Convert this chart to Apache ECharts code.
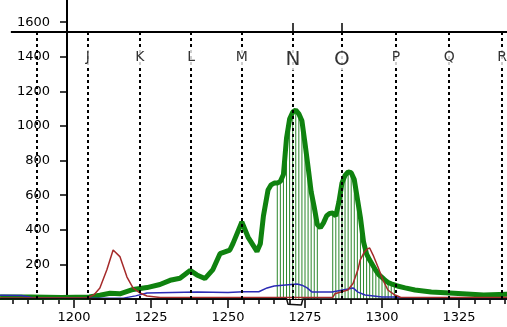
<!DOCTYPE html>
<html>
<head>
<meta charset="utf-8">
<script src="https://cdn.jsdelivr.net/npm/echarts@6/dist/echarts.min.js"></script>
<style>
    html, body { margin: 0; padding: 0; background: #fff; }
    #grafico { width: 507px; height: 327px; }
</style>
</head>
<body>
<div id="grafico"></div>
<script>
// marcadores (linhas tracejadas com letras)
var marcadores_nomes = ['', 'J', 'K', 'L', 'M', 'N', 'O', 'P', 'Q', 'R'];
var marcadores_pos = [1188, 1204.5, 1221.4, 1238, 1254.5, 1271.1, 1287, 1304.5, 1321.8, 1339];
var marcadores_grandes = ['N', 'O'];

// faixas com hachura verde
var faixas_hachura = [[1266, 1279], [1284, 1304]];

// curva verde (grossa)
var linha_verde = [
    [1176, 12], [1186, 12], [1196, 8], [1205, 12], [1208.4, 22], [1211.7, 33], [1214.9, 30],
    [1219.2, 55], [1223.7, 66], [1227.9, 84], [1231.2, 108], [1234.4, 120], [1237.7, 165],
    [1239.9, 139], [1242.5, 118], [1245.1, 170], [1247.4, 262], [1250.6, 283], [1251.6, 320],
    [1254.5, 445], [1256.5, 358], [1259.4, 275], [1260.5, 320], [1261.5, 480], [1263, 630],
    [1264, 660], [1265, 670], [1266, 670], [1267, 680], [1268, 720], [1269, 930], [1270, 1040],
    [1271, 1080], [1272, 1092], [1273, 1070], [1274, 1030], [1275, 900], [1276, 763], [1277, 620],
    [1278, 530], [1279, 430], [1280, 412], [1281, 440], [1282, 480], [1283, 495], [1284, 497],
    [1285, 480], [1286, 560], [1287, 670], [1288, 715], [1289, 735], [1290, 730], [1291, 690],
    [1292, 580], [1293, 470], [1294, 330], [1295, 260], [1296, 225], [1297, 195], [1298, 165],
    [1299, 140], [1300, 125], [1301, 108], [1302, 95], [1303, 88], [1304, 82], [1305, 75],
    [1307.5, 64], [1310.7, 52], [1316, 40], [1322, 35], [1333, 23], [1341, 28]
];

// curva vermelha
var linha_vermelha = [
    [1176, 6], [1204.5, 6], [1206.5, 25], [1208.4, 63], [1210.7, 170], [1212.7, 283], [1213.3, 292],
    [1214.9, 245], [1217.2, 127], [1219.2, 63], [1221.4, 35], [1223.7, 17], [1228, 8], [1260, 9],
    [1284, 9], [1284.7, 30], [1288.9, 52], [1290.6, 90], [1292.2, 170], [1292.9, 225], [1294.2, 270],
    [1295.3, 290], [1296, 295], [1297.1, 254], [1298.7, 185], [1300.3, 110], [1301.9, 52],
    [1304.2, 23], [1306, 10], [1341, 8]
];

// curva azul
var linha_azul = [
    [1176, 22], [1183, 20], [1187, 6], [1200, 4], [1216, 5], [1220, 18], [1223.7, 35], [1240, 40],
    [1250, 38], [1255, 42], [1260, 42], [1262.7, 64], [1265, 75], [1272.4, 87], [1274, 80],
    [1275.7, 64], [1277.3, 40], [1283.8, 40], [1289, 58], [1290.6, 64], [1292.2, 40], [1294.5, 23],
    [1300, 12], [1304, 12], [1306.5, 5], [1341, 3]
];

// curva preta
var linha_preta = [
    [1176, 2], [1269, 2], [1269.5, -30], [1273.8, -35], [1274.3, 0], [1341, 2]
];

var topo_valor = 1543;
var traco_topo = 1595;

var barras = linha_verde.filter(function (p) {
    return faixas_hachura.some(function (f) { return p[0] >= f[0] && p[0] <= f[1]; });
});

var linhas_tracejadas = marcadores_pos.map(function (x) {
    return [{ coord: [x, 0] }, { coord: [x, topo_valor] }];
});
linhas_tracejadas.push([{ coord: [1179.5, topo_valor], lineStyle: { type: 'solid', width: 2 } }, { coord: [1350, topo_valor] }]);
marcadores_nomes.forEach(function (n, i) {
    if (marcadores_grandes.indexOf(n) >= 0) {
        linhas_tracejadas.push([{ coord: [marcadores_pos[i], topo_valor], lineStyle: { type: 'solid', width: 1.5 } }, { coord: [marcadores_pos[i], traco_topo] }]);
    }
});

var letras = marcadores_nomes.map(function (n, i) {
    var grande = marcadores_grandes.indexOf(n) >= 0;
    return {
        value: [marcadores_pos[i], grande ? 1385 : 1399],
        nome: n,
        label: { fontSize: grande ? 20 : 14, show: n !== '' }
    };
});

var fonte = 'DejaVu Sans';

echarts.init(document.querySelector('#grafico')).setOption({
    animation: false,
    backgroundColor: '#fff',
    grid: { left: -3, right: -29, top: -12.4, bottom: 28, outerBoundsMode: 'none', containLabel: false },
    xAxis: {
        type: 'value',
        min: 1175,
        max: 1350,
        interval: 25,
        axisLine: { onZero: false, lineStyle: { color: '#000', width: 1 } },
        axisTick: { length: 9, lineStyle: { color: '#000', width: 1.5 } },
        minorTick: { show: true, splitNumber: 5, length: 5, lineStyle: { color: '#000', width: 1.5 } },
        splitLine: { show: false },
        axisLabel: {
            margin: 12, fontSize: 13, color: '#000', fontFamily: fonte,
            formatter: function (v) { return v === 1175 ? '' : v; }
        }
    },
    yAxis: {
        type: 'value',
        min: 0,
        max: 1800,
        interval: 200,
        offset: -70,
        axisLine: { show: true, lineStyle: { color: '#000', width: 2 } },
        axisTick: { show: true, length: 7, lineStyle: { color: '#000', width: 1.5 } },
        splitLine: { show: false },
        axisLabel: {
            margin: 17, fontSize: 13, color: '#000', fontFamily: fonte,
            formatter: function (v) { return (v === 0 || v === 1800) ? '' : v; }
        }
    },
    series: [{
        type: 'bar',
        data: barras,
        barWidth: 1,
        itemStyle: { color: '#2a872a' },
        z: 1
    }, {
        type: 'line',
        data: linha_verde,
        symbol: 'none',
        lineStyle: { color: '#0f820f', width: 5 },
        z: 2
    }, {
        type: 'line',
        data: linha_azul,
        symbol: 'none',
        lineStyle: { color: '#2a2ab4', width: 1.5 },
        z: 3
    }, {
        type: 'line',
        data: linha_vermelha,
        symbol: 'none',
        lineStyle: { color: '#a52a2a', width: 1.5 },
        z: 3
    }, {
        type: 'line',
        data: linha_preta,
        symbol: 'none',
        clip: false,
        lineStyle: { color: '#111', width: 1.5 },
        z: 3,
        markLine: {
            silent: true,
            symbol: 'none',
            label: { show: false },
            lineStyle: { type: [3, 3], color: '#000', width: 2 },
            data: linhas_tracejadas
        }
    }, {
        type: 'scatter',
        data: letras,
        symbolSize: 0,
        z: 5,
        label: {
            show: true,
            position: 'inside',
            color: '#000',
            fontFamily: fonte,
            backgroundColor: '#fff',
            padding: [1, 1],
            formatter: function (p) { return p.data.nome; }
        }
    }]
});
</script>
</body>
</html>
